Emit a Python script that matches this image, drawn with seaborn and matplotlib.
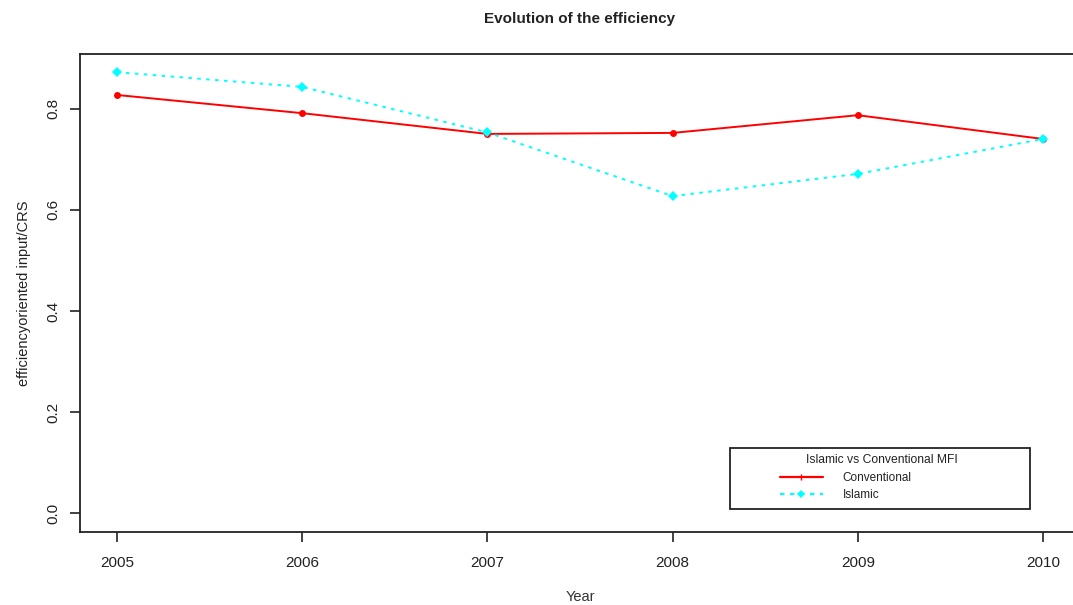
import matplotlib
matplotlib.use("Agg")
import matplotlib.pyplot as plt
import seaborn as sns
import pandas as pd
from matplotlib.patches import Rectangle
from matplotlib.lines import Line2D

years = [2005, 2006, 2007, 2008, 2009, 2010]
conventional = [0.827, 0.791, 0.750, 0.752, 0.787, 0.740]
islamic = [0.872, 0.843, 0.753, 0.627, 0.671, 0.740]
series_names = ["Conventional", "Islamic"]
y_ticks = [0.0, 0.2, 0.4, 0.6, 0.8]

sns.set_theme(style="white")
plt.rcParams['font.family'] = ['Liberation Sans', 'DejaVu Sans']

W, H = 1073, 605
fig = plt.figure(figsize=(W / 100, H / 100), dpi=100)
ax = fig.add_axes([80 / W, 1 - 532 / H, (1080 - 80) / W, (532 - 54) / H])

df_c = pd.DataFrame({"Year": years, "eff": conventional})
df_i = pd.DataFrame({"Year": years, "eff": islamic})

sns.lineplot(data=df_c, x="Year", y="eff", ax=ax, color="#ff0000", lw=1.4,
             marker="o", markersize=5, markeredgewidth=0, linestyle="-")
sns.lineplot(data=df_i, x="Year", y="eff", ax=ax, color="#00ffff", lw=1.4,
             marker="D", markersize=5.5, markeredgewidth=0)
ax.lines[1].set_linestyle((0, (1.8, 2.8)))

ax.set_xlim(2004.8, 2010.2)
ax.set_ylim(-0.037, 0.908)
ax.set_xticks(years)
ax.set_xticklabels([str(y) for y in years])
ax.set_yticks(y_ticks)
ax.set_yticklabels([f"{v:.1f}" for v in y_ticks], rotation=90, va="center")

for s in ["left", "top", "bottom"]:
    ax.spines[s].set_visible(True)
    ax.spines[s].set_color("#222222")
    ax.spines[s].set_linewidth(1.3)
ax.spines["right"].set_visible(False)

ax.tick_params(axis="both", which="major", direction="out", length=7, width=1.2,
               color="#222222", labelsize=11, labelcolor="#222222",
               left=True, bottom=True)
ax.tick_params(axis="x", pad=10)
ax.tick_params(axis="y", pad=7)

ax.set_xlabel("Year", fontsize=10.5, color="#333333", labelpad=15)
ax.set_ylabel("efficiencyoriented input/CRS", fontsize=10.5, color="#222222", labelpad=11)

fig.text(580 / W, 1 - 19 / H, "Evolution of the efficiency", ha="center", va="center",
         fontsize=11, fontweight="bold", color="#222222")

# legend
fig.patches.append(Rectangle((730 / W, 1 - 509 / H), 300 / W, 61 / H,
                             transform=fig.transFigure, fill=False,
                             edgecolor="#222222", linewidth=1.3))
fig.text(882 / W, 1 - 460 / H, "Islamic vs Conventional MFI", ha="center", va="center",
         fontsize=8.7, color="#222222")
handles = [Line2D([0], [0], color="#ff0000", lw=1.6, marker="|", markersize=5),
           Line2D([0], [0], color="#00ffff", lw=1.6, linestyle=(0, (2, 2.5)),
                  marker="D", markersize=4, markeredgewidth=0)]
leg = fig.legend(handles, series_names, loc="upper left",
                 bbox_to_anchor=(780 / W, 1 - 472 / H), bbox_transform=fig.transFigure,
                 frameon=False, fontsize=8.5, handlelength=3.6, handletextpad=1.7,
                 labelspacing=0.4, borderpad=0, borderaxespad=0)
for t in leg.get_texts():
    t.set_color("#222222")

fig.savefig("out.png", dpi=100, facecolor="white")
